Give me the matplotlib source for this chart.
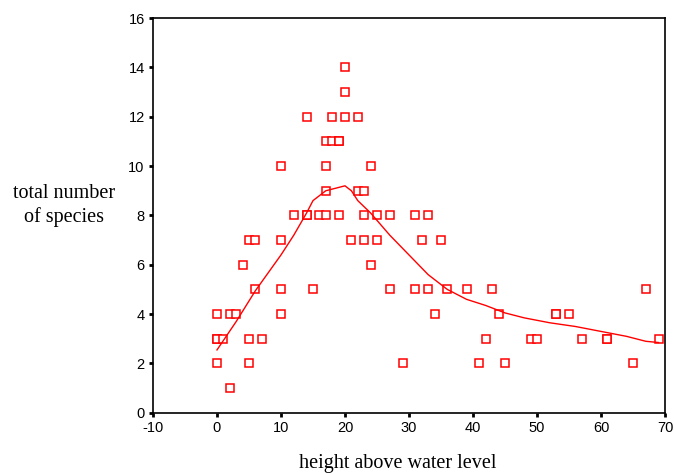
import matplotlib
matplotlib.use("Agg")
import matplotlib.pyplot as plt

# scatter data: height above water level vs total number of species
height = [0, 0, 0, 0, 1, 2, 2, 3, 4, 5, 6, 5, 5, 6, 7,
          10, 10, 10, 10, 12, 14, 14, 14, 15, 16, 17, 17, 18, 19, 19, 17, 17, 18, 19,
          20, 20, 20, 21, 22, 22, 23, 23, 23, 24, 24, 25, 25, 27, 27, 29,
          31, 31, 32, 33, 33, 34, 35, 36, 39, 41, 42, 43, 44, 45,
          49, 50, 53, 53, 55, 57, 61, 61, 65, 67, 69]
species = [4, 3, 3, 2, 3, 1, 4, 4, 6, 7, 7, 3, 2, 5, 3,
           10, 7, 5, 4, 8, 12, 8, 8, 5, 8, 8, 11, 11, 11, 11, 10, 9, 12, 8,
           14, 13, 12, 7, 12, 9, 9, 8, 7, 10, 6, 8, 7, 8, 5, 2,
           8, 5, 7, 8, 5, 4, 7, 5, 5, 2, 3, 5, 4, 2,
           3, 3, 4, 4, 4, 3, 3, 3, 2, 5, 3]

# fitted (loess) curve
fit_x = [0, 3, 6, 10, 12, 14, 15, 17, 20, 21, 22, 24, 27, 30, 33, 36, 39,
         42, 45, 48, 52, 56, 60, 64, 67, 69]
fit_y = [2.55, 3.7, 4.95, 6.4, 7.2, 8.1, 8.6, 9.0, 9.2, 9.0, 8.6, 8.1, 7.2,
         6.4, 5.6, 5.0, 4.6, 4.35, 4.05, 3.85, 3.65, 3.5, 3.3, 3.1, 2.9, 2.85]

red = "#ff0000"
plt.rcParams["axes.unicode_minus"] = False
fig = plt.figure(figsize=(6.74, 4.74), dpi=100)
ax = fig.add_axes([0.227, 0.129, 0.7596, 0.833])

ax.plot(height, species, linestyle="none", marker="s", markersize=5.3,
        markerfacecolor="white", markeredgecolor=red, markeredgewidth=1.1)
ax.plot(fit_x, fit_y, color=red, linewidth=1.0)

ax.set_xlim(-10, 70)
ax.set_ylim(0, 16)
ax.set_xticks(range(-10, 71, 10))
ax.set_yticks(range(0, 17, 2))
for s in ax.spines.values():
    s.set_linewidth(1.2)
ax.tick_params(direction="out", length=3, width=2, labelsize=10.5, pad=3)
for lab in ax.get_xticklabels() + ax.get_yticklabels():
    lab.set_fontfamily("Liberation Sans")

fig.text(0.095, 0.566, "total number\nof species", ha="center", va="center",
         fontfamily="Liberation Serif", fontsize=14.5, linespacing=1.25)
fig.text(0.59, 0.022, "height above water level", ha="center", va="center",
         fontfamily="Liberation Serif", fontsize=14.5)

fig.savefig("out.png", dpi=100)
